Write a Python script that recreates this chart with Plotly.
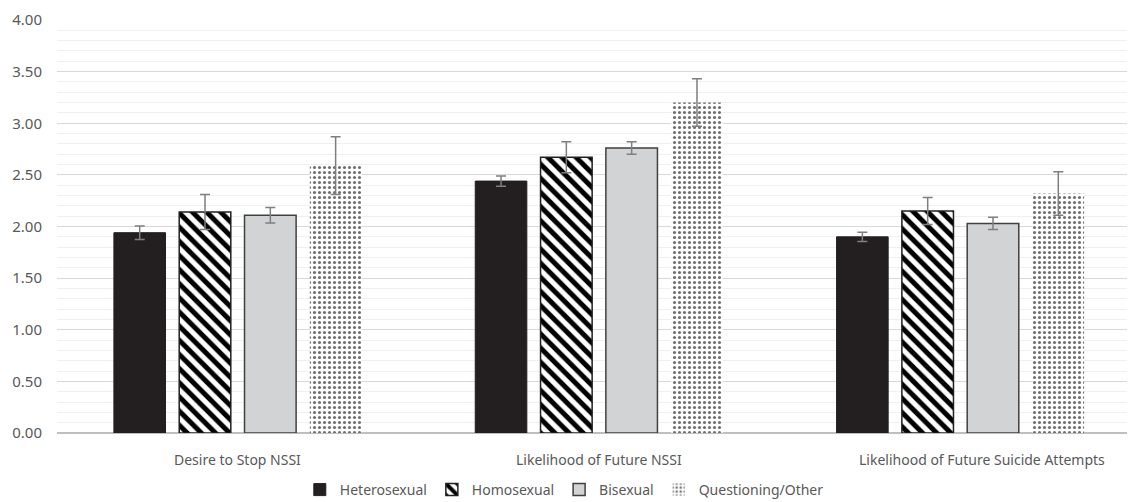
import plotly.graph_objects as go

categories = ["Desire to Stop NSSI", "Likelihood of Future NSSI", "Likelihood of Future Suicide Attempts"]
series_names = ["Heterosexual", "Homosexual", "Bisexual", "Questioning/Other"]
hetero = [1.94, 2.44, 1.90]
hetero_err = [0.065, 0.05, 0.045]
homo = [2.14, 2.67, 2.15]
homo_err = [0.17, 0.15, 0.13]
bi = [2.11, 2.76, 2.03]
bi_err = [0.075, 0.06, 0.06]
quest = [2.59, 3.20, 2.32]
quest_err = [0.28, 0.23, 0.21]
y_ticks = [0, 0.5, 1.0, 1.5, 2.0, 2.5, 3.0, 3.5, 4.0]

FONT = "Noto Sans"
TXT = "#595959"
err_style = dict(type="data", color="#7f7f7f", thickness=1.5, width=5)

fig = go.Figure()
fig.add_trace(go.Bar(
    name=series_names[0], x=categories, y=hetero,
    error_y=dict(array=hetero_err, **err_style),
    marker=dict(color="#231f20", line=dict(color="#231f20", width=1)),
))
fig.add_trace(go.Bar(
    name=series_names[1], x=categories, y=homo,
    error_y=dict(array=homo_err, **err_style),
    marker=dict(color="#ffffff", line=dict(color="#231f20", width=1.5),
                pattern=dict(shape="\\", fillmode="overlay", fgcolor="#000000", fgopacity=1,
                             size=10, solidity=0.5)),
))
fig.add_trace(go.Bar(
    name=series_names[2], x=categories, y=bi,
    error_y=dict(array=bi_err, **err_style),
    marker=dict(color="#d1d3d4", line=dict(color="#404040", width=1.5)),
))
fig.add_trace(go.Bar(
    name=series_names[3], x=categories, y=quest,
    error_y=dict(array=quest_err, **err_style),
    marker=dict(color="#ffffff", line=dict(width=0),
                pattern=dict(shape=".", fillmode="overlay", fgcolor="#707070", fgopacity=1,
                             size=5, solidity=0.3)),
))

# category labels (Excel nudges the last, long label to the right)
label_shift = [0, 0, 22]
for cat, sh in zip(categories, label_shift):
    fig.add_annotation(x=cat, xref="x", y=0, yref="paper", yanchor="top", yshift=-15,
                       xshift=sh, text=cat, showarrow=False,
                       font=dict(family=FONT, size=14, color=TXT))

fig.update_layout(
    width=1135, height=502,
    margin=dict(l=49, r=2, t=12, b=77, autoexpand=False),
    paper_bgcolor="white", plot_bgcolor="white",
    barmode="group", bargap=0.277, bargroupgap=0.21,
    font=dict(family=FONT, size=14, color=TXT),
    showlegend=True,
    legend=dict(orientation="h", x=0.468, xanchor="center", y=-0.138, yanchor="middle",
                font=dict(family=FONT, size=14, color=TXT), itemwidth=30,
                traceorder="normal"),
    xaxis=dict(showgrid=False, showline=False, ticks="", showticklabels=False),
    yaxis=dict(range=[0, 4], tickvals=y_ticks, tickformat=".2f", showline=False,
               gridcolor="#d9d9d9", gridwidth=1, zeroline=True, zerolinecolor="#bfbfbf", zerolinewidth=1.5,
               minor=dict(dtick=0.1, showgrid=True, gridcolor="#f0f0f0", gridwidth=1),
               tickfont=dict(size=15, color=TXT), ticklabelstandoff=14),
)

fig.write_html("out.html")
